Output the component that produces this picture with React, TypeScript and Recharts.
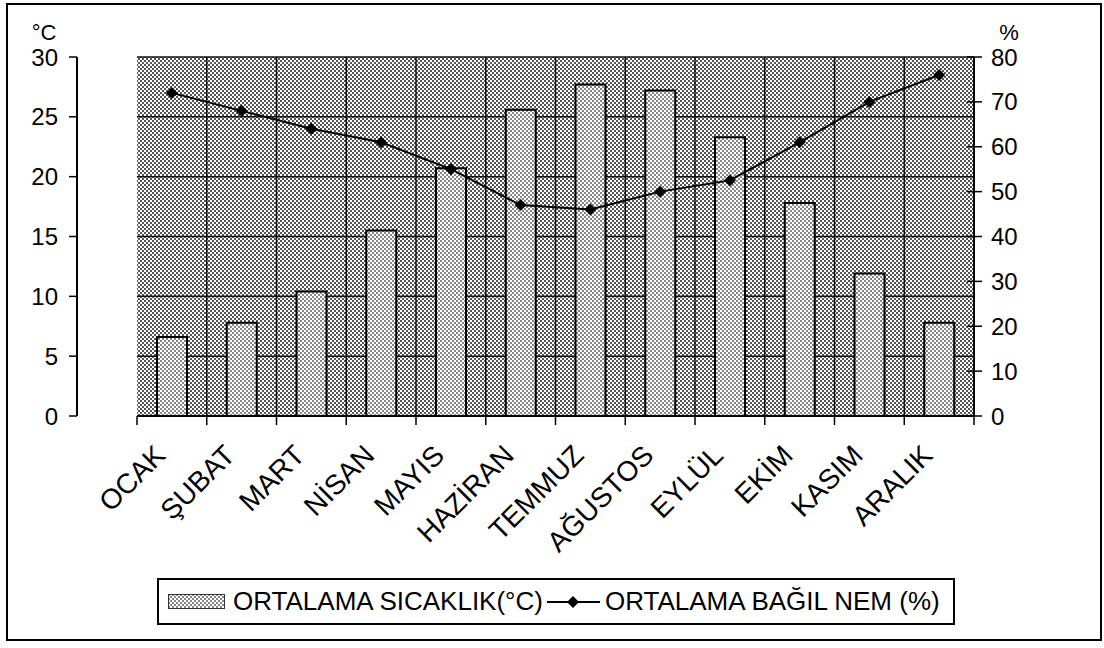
import { ComposedChart, Bar, Line, XAxis, YAxis, CartesianGrid, Legend } from 'recharts';

const months = ['OCAK', 'ŞUBAT', 'MART', 'NİSAN', 'MAYIS', 'HAZİRAN', 'TEMMUZ', 'AĞUSTOS', 'EYLÜL', 'EKİM', 'KASIM', 'ARALIK'];
const temperature = [6.6, 7.8, 10.4, 15.5, 20.7, 25.6, 27.7, 27.2, 23.3, 17.8, 11.9, 7.8];
const humidity = [72, 68, 64, 61, 55, 47, 46, 50, 52.5, 61, 70, 76];
const tempTicks = [0, 5, 10, 15, 20, 25, 30];
const humidityTicks = [0, 10, 20, 30, 40, 50, 60, 70, 80];
const tempGridLines = [5, 10, 15, 20, 25];
const monthBoundaries = [1, 2, 3, 4, 5, 6, 7, 8, 9, 10, 11];

const data = months.map((month, i) => ({ month, temp: temperature[i], hum: humidity[i] }));

// tick mark sits on the category boundary, label hangs under the category centre
const MonthTick = (props: any) => {
  const { x, y, payload, index, width, visibleTicksCount } = props;
  const half = width / visibleTicksCount / 2;
  return (
    <g>
      <line x1={x - half} x2={x - half} y1={y - 9} y2={y} stroke="#000" strokeWidth={1.5} />
      {index === months.length - 1 && (
        <line x1={x + half} x2={x + half} y1={y - 9} y2={y} stroke="#000" strokeWidth={1.5} />
      )}
      <text
        x={x - 5}
        y={y + 32}
        transform={`rotate(-45, ${x - 5}, ${y + 32})`}
        textAnchor="end"
        fontSize={28}
        fill="#000"
      >
        {payload.value}
      </text>
    </g>
  );
};

const RightTick = ({ x, y, payload }: any) => (
  <g>
    <line x1={x - 24} x2={x - 9} y1={y} y2={y} stroke="#000" strokeWidth={1.5} />
    <text x={x} y={y} dy="0.355em" textAnchor="start" fontSize={24} fill="#000">
      {payload.value}
    </text>
  </g>
);

const Diamond = ({ cx, cy, index }: any) => (
  <path key={index} d={`M${cx},${cy - 6} L${cx + 6},${cy} L${cx},${cy + 6} L${cx - 6},${cy} Z`} fill="#000" />
);

const LegendBox = () => (
  <div
    style={{
      height: 47,
      boxSizing: 'border-box',
      border: '2px solid #000',
      display: 'flex',
      alignItems: 'center',
      paddingLeft: 9,
      fontSize: 26,
      color: '#000',
      whiteSpace: 'nowrap',
      background: '#fff',
    }}
  >
    <svg width={57} height={15}>
      <rect x={0.5} y={0.5} width={56} height={14} fill="url(#barPat)" stroke="#333" strokeWidth={1} />
    </svg>
    <span style={{ marginLeft: 8 }}>ORTALAMA SICAKLIK(°C)</span>
    <svg width={53} height={20} style={{ marginLeft: 4 }}>
      <line x1={0} x2={53} y1={10} y2={10} stroke="#000" strokeWidth={2} />
      <path d="M26,4 L32,10 L26,16 L20,10 Z" fill="#000" />
    </svg>
    <span style={{ marginLeft: 5 }}>ORTALAMA BAĞIL NEM (%)</span>
  </div>
);

export default function App() {
  return (
    <div
      style={{
        position: 'absolute',
        left: 0,
        top: 0,
        width: 1104,
        height: 648,
        background: '#fff',
        fontFamily: '"Liberation Sans", Arial, sans-serif',
      }}
    >
      <div
        style={{
          position: 'absolute',
          left: 6,
          top: 3,
          width: 1096,
          height: 638,
          border: '2px solid #000',
          boxSizing: 'border-box',
        }}
      />
      <div style={{ position: 'absolute', left: 0, top: 0 }}>
        <ComposedChart width={1104} height={648} data={data} margin={{ top: 57, right: 70, left: 77, bottom: 23 }}>
          <defs>
            <pattern id="bgPat" width="4" height="4" patternUnits="userSpaceOnUse">
              <rect width="4" height="4" fill="#fff" />
              <rect x="0" y="0" width="2" height="2" fill="#555" />
              <rect x="2" y="2" width="2" height="2" fill="#555" />
            </pattern>
            <pattern id="barPat" width="4" height="4" patternUnits="userSpaceOnUse">
              <rect width="4" height="4" fill="#fff" />
              <rect x="0" y="0" width="2" height="2" fill="#888" />
              <rect x="2" y="2" width="2" height="2" fill="#888" />
            </pattern>
          </defs>
          <YAxis yAxisId="grid" type="number" domain={[0, 30]} ticks={tempGridLines} allowDataOverflow hide />
          <CartesianGrid
            xAxisId="cat"
            yAxisId="grid"
            fill="url(#bgPat)"
            fillOpacity={1}
            stroke="#111"
            strokeWidth={1.5}
            verticalCoordinatesGenerator={({ offset }: any) =>
              monthBoundaries.map((b) => offset.left + (b * offset.width) / months.length)
            }
          />
          <XAxis
            xAxisId="cat"
            dataKey="month"
            interval={0}
            tickLine={false}
            tickSize={9}
            tickMargin={0}
            height={162}
            axisLine={{ stroke: '#000', strokeWidth: 2 }}
            tick={<MonthTick />}
          />
          <YAxis
            yAxisId="left"
            domain={[0, 30]}
            ticks={tempTicks}
            width={60}
            tickSize={8}
            tickMargin={11}
            axisLine={{ stroke: '#000', strokeWidth: 2 }}
            tickLine={{ stroke: '#000', strokeWidth: 1.5 }}
            tick={{ fontSize: 24, fill: '#000' }}
            label={{ value: '°C', position: 'top', offset: 17, dx: -3, fontSize: 22, fill: '#000' }}
          />
          <YAxis
            yAxisId="right"
            orientation="right"
            domain={[0, 80]}
            ticks={humidityTicks}
            width={60}
            tickSize={8}
            tickMargin={9}
            tickLine={false}
            axisLine={{ stroke: '#000', strokeWidth: 2 }}
            tick={<RightTick />}
            label={{ value: '%', position: 'top', offset: 17, dx: 5, fontSize: 22, fill: '#000' }}
          />
          <Bar
            xAxisId="cat"
            yAxisId="left"
            dataKey="temp"
            name="ORTALAMA SICAKLIK(°C)"
            barSize={30}
            fill="url(#barPat)"
            stroke="#000"
            strokeWidth={2}
            isAnimationActive={false}
          />
          <Line
            xAxisId="cat"
            yAxisId="right"
            dataKey="hum"
            name="ORTALAMA BAĞIL NEM (%)"
            type="linear"
            stroke="#000"
            strokeWidth={2}
            dot={Diamond}
            activeDot={false}
            isAnimationActive={false}
          />
          <Legend verticalAlign="bottom" content={<LegendBox />} wrapperStyle={{ left: 157, width: 798 }} />
        </ComposedChart>
      </div>
    </div>
  );
}
